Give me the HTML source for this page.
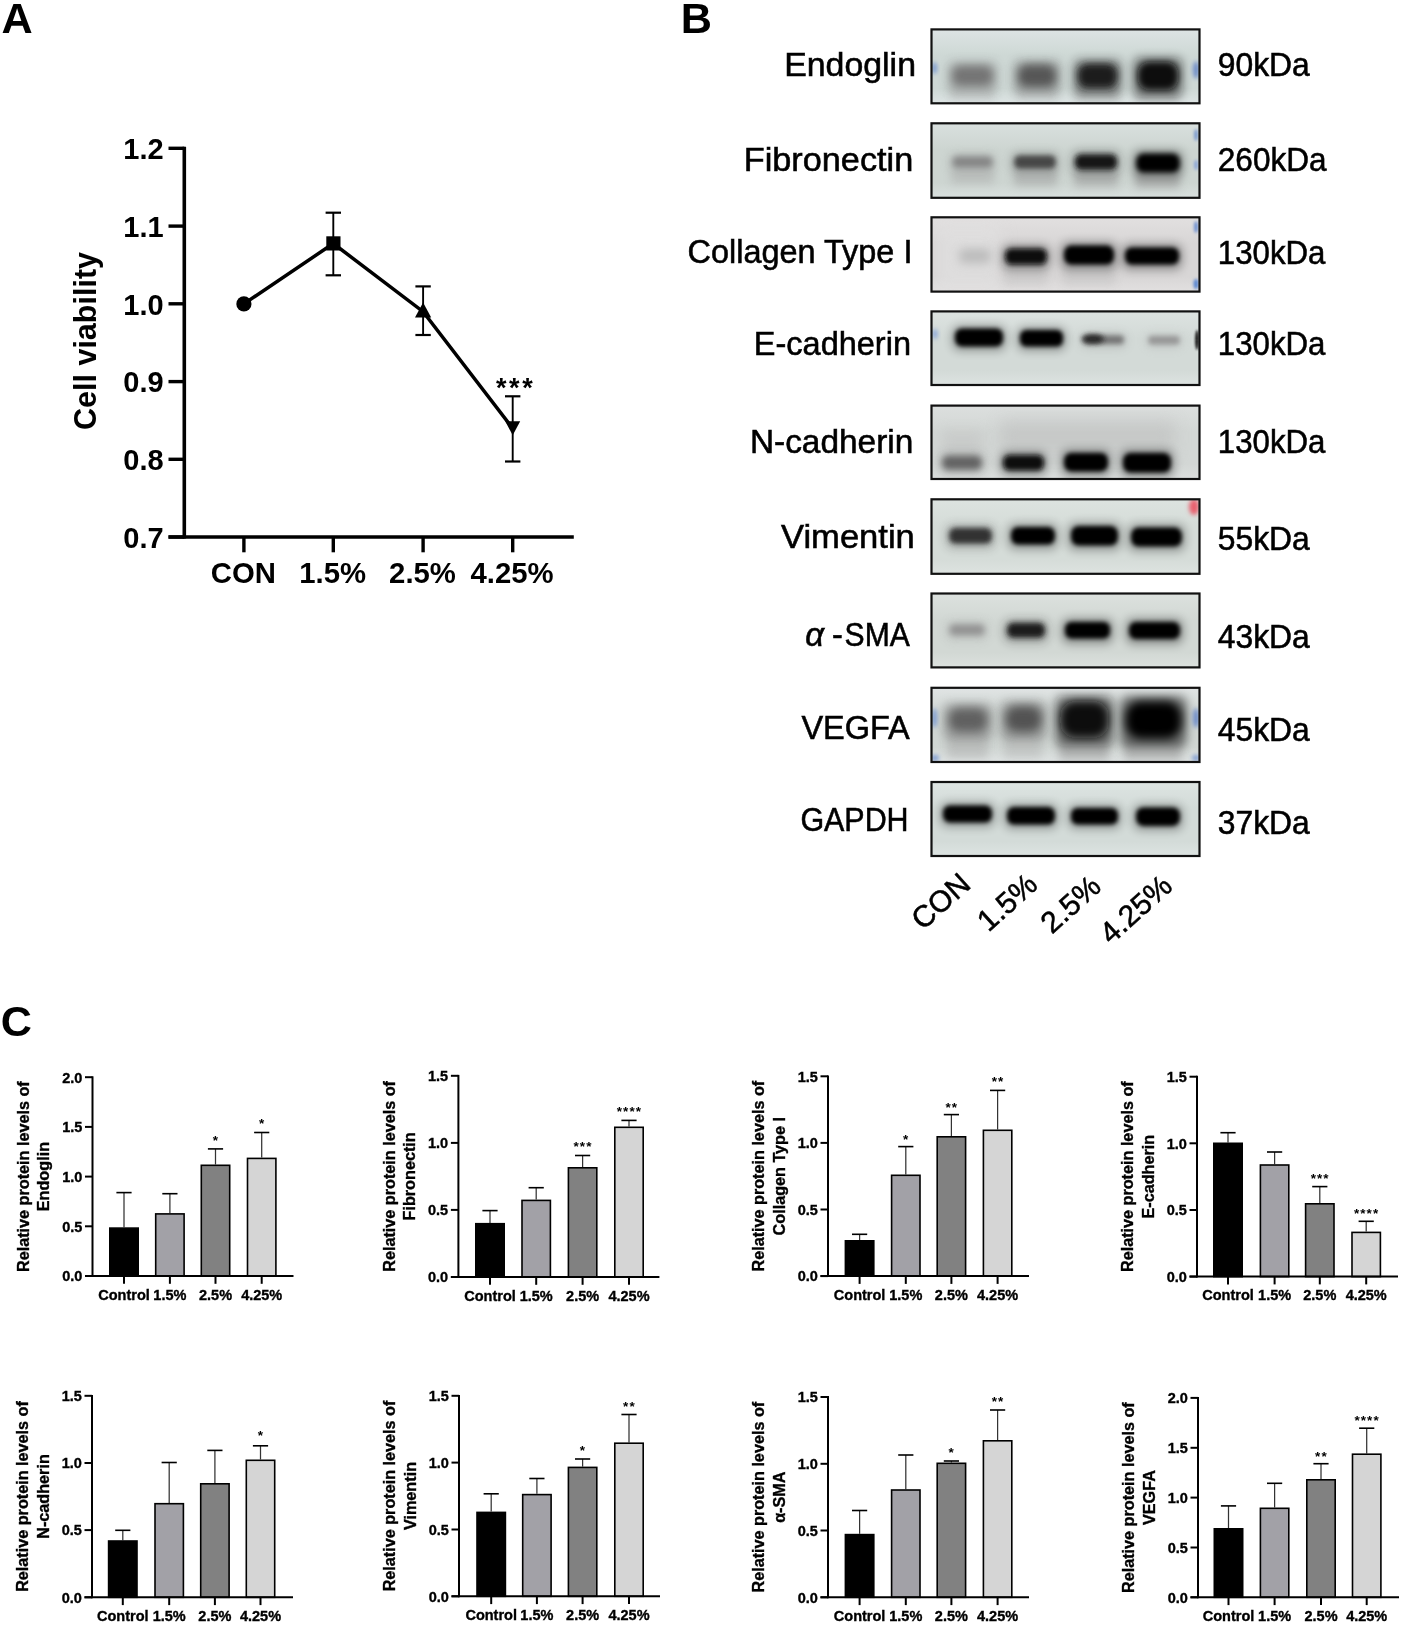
<!DOCTYPE html>
<html><head><meta charset="utf-8"><title>Figure</title>
<style>html,body{margin:0;padding:0;background:#fff;} svg{display:block;will-change:transform;}</style></head>
<body><svg width="1401" height="1626" viewBox="0 0 1401 1626">
<rect width="1401" height="1626" fill="#fff"/>
<text x="1.6" y="32.6" font-family="&quot;Liberation Sans&quot;, sans-serif" font-weight="bold" font-size="43.2">A</text>
<line x1="184.3" y1="146.8" x2="184.3" y2="538.55" stroke="#000" stroke-width="3.6"/>
<line x1="168.5" y1="148.3" x2="184.3" y2="148.3" stroke="#000" stroke-width="3.4"/>
<text x="163.6" y="159.1" font-family="&quot;Liberation Sans&quot;, sans-serif" font-weight="bold" font-size="29" text-anchor="end">1.2</text>
<line x1="168.5" y1="226.1" x2="184.3" y2="226.1" stroke="#000" stroke-width="3.4"/>
<text x="163.6" y="236.9" font-family="&quot;Liberation Sans&quot;, sans-serif" font-weight="bold" font-size="29" text-anchor="end">1.1</text>
<line x1="168.5" y1="303.8" x2="184.3" y2="303.8" stroke="#000" stroke-width="3.4"/>
<text x="163.6" y="314.6" font-family="&quot;Liberation Sans&quot;, sans-serif" font-weight="bold" font-size="29" text-anchor="end">1.0</text>
<line x1="168.5" y1="381.6" x2="184.3" y2="381.6" stroke="#000" stroke-width="3.4"/>
<text x="163.6" y="392.4" font-family="&quot;Liberation Sans&quot;, sans-serif" font-weight="bold" font-size="29" text-anchor="end">0.9</text>
<line x1="168.5" y1="459.3" x2="184.3" y2="459.3" stroke="#000" stroke-width="3.4"/>
<text x="163.6" y="470.1" font-family="&quot;Liberation Sans&quot;, sans-serif" font-weight="bold" font-size="29" text-anchor="end">0.8</text>
<line x1="168.5" y1="537.0" x2="184.3" y2="537.0" stroke="#000" stroke-width="3.4"/>
<text x="163.6" y="547.8" font-family="&quot;Liberation Sans&quot;, sans-serif" font-weight="bold" font-size="29" text-anchor="end">0.7</text>
<line x1="168.5" y1="537.05" x2="573.8" y2="537.05" stroke="#000" stroke-width="3.4"/>
<line x1="243.9" y1="537.05" x2="243.9" y2="552.3" stroke="#000" stroke-width="3.4"/>
<text x="243.3" y="583.4" font-family="&quot;Liberation Sans&quot;, sans-serif" font-weight="bold" font-size="29.3" text-anchor="middle">CON</text>
<line x1="333.3" y1="537.05" x2="333.3" y2="552.3" stroke="#000" stroke-width="3.4"/>
<text x="332.7" y="583.4" font-family="&quot;Liberation Sans&quot;, sans-serif" font-weight="bold" font-size="29.3" text-anchor="middle">1.5%</text>
<line x1="423.1" y1="537.05" x2="423.1" y2="552.3" stroke="#000" stroke-width="3.4"/>
<text x="422.5" y="583.4" font-family="&quot;Liberation Sans&quot;, sans-serif" font-weight="bold" font-size="29.3" text-anchor="middle">2.5%</text>
<line x1="512.7" y1="537.05" x2="512.7" y2="552.3" stroke="#000" stroke-width="3.4"/>
<text x="512.1" y="583.4" font-family="&quot;Liberation Sans&quot;, sans-serif" font-weight="bold" font-size="29.3" text-anchor="middle">4.25%</text>
<text transform="translate(96.2,341) rotate(-90)" font-family="&quot;Liberation Sans&quot;, sans-serif" font-weight="bold" font-size="30.5" text-anchor="middle">Cell viability</text>
<polyline points="243.9,303.9 333.3,243.5 423.1,311.7 512.7,428.4" fill="none" stroke="#000" stroke-width="3.5" stroke-linejoin="miter"/>
<line x1="333.3" y1="212.7" x2="333.3" y2="275.3" stroke="#000" stroke-width="1.9"/>
<line x1="325.6" y1="212.7" x2="341.0" y2="212.7" stroke="#000" stroke-width="2.2"/>
<line x1="325.6" y1="275.3" x2="341.0" y2="275.3" stroke="#000" stroke-width="2.2"/>
<line x1="423.1" y1="286.4" x2="423.1" y2="335.0" stroke="#000" stroke-width="1.9"/>
<line x1="415.40000000000003" y1="286.4" x2="430.8" y2="286.4" stroke="#000" stroke-width="2.2"/>
<line x1="415.40000000000003" y1="335.0" x2="430.8" y2="335.0" stroke="#000" stroke-width="2.2"/>
<line x1="512.7" y1="396.3" x2="512.7" y2="461.5" stroke="#000" stroke-width="1.9"/>
<line x1="505.00000000000006" y1="396.3" x2="520.4000000000001" y2="396.3" stroke="#000" stroke-width="2.2"/>
<line x1="505.00000000000006" y1="461.5" x2="520.4000000000001" y2="461.5" stroke="#000" stroke-width="2.2"/>
<circle cx="243.9" cy="303.9" r="7.6" fill="#000"/>
<rect x="326.3" y="236.3" width="14.2" height="14.2" fill="#000"/>
<polygon points="423.1,302.5 431.2,317.5 415,317.5" fill="#000"/>
<polygon points="505.2,421.2 520.2,421.2 512.7,435.3" fill="#000"/>
<text x="515.6" y="396.6" font-family="&quot;Liberation Sans&quot;, sans-serif" font-weight="bold" font-size="27" letter-spacing="2.6" text-anchor="middle">***</text>
<text x="680.8" y="32.6" font-family="&quot;Liberation Sans&quot;, sans-serif" font-weight="bold" font-size="43.2">B</text>
<defs>
<filter id="bl1.2" x="-60%" y="-150%" width="220%" height="400%"><feGaussianBlur stdDeviation="1.2"/></filter>
<filter id="bl1.5" x="-60%" y="-150%" width="220%" height="400%"><feGaussianBlur stdDeviation="1.5"/></filter>
<filter id="bl2.0" x="-60%" y="-150%" width="220%" height="400%"><feGaussianBlur stdDeviation="2.0"/></filter>
<filter id="bl2.2" x="-60%" y="-150%" width="220%" height="400%"><feGaussianBlur stdDeviation="2.2"/></filter>
<filter id="bl2.4" x="-60%" y="-150%" width="220%" height="400%"><feGaussianBlur stdDeviation="2.4"/></filter>
<filter id="bl2.6" x="-60%" y="-150%" width="220%" height="400%"><feGaussianBlur stdDeviation="2.6"/></filter>
<filter id="bl2.8" x="-60%" y="-150%" width="220%" height="400%"><feGaussianBlur stdDeviation="2.8"/></filter>
<filter id="bl3.0" x="-60%" y="-150%" width="220%" height="400%"><feGaussianBlur stdDeviation="3.0"/></filter>
<filter id="bl3.2" x="-60%" y="-150%" width="220%" height="400%"><feGaussianBlur stdDeviation="3.2"/></filter>
<filter id="bl3.6" x="-60%" y="-150%" width="220%" height="400%"><feGaussianBlur stdDeviation="3.6"/></filter>
<filter id="bl4.0" x="-60%" y="-150%" width="220%" height="400%"><feGaussianBlur stdDeviation="4.0"/></filter>
<filter id="bl4.2" x="-60%" y="-150%" width="220%" height="400%"><feGaussianBlur stdDeviation="4.2"/></filter>
<filter id="bl4.6" x="-60%" y="-150%" width="220%" height="400%"><feGaussianBlur stdDeviation="4.6"/></filter>
<filter id="bl5.0" x="-60%" y="-150%" width="220%" height="400%"><feGaussianBlur stdDeviation="5.0"/></filter>
<filter id="bl6.0" x="-60%" y="-150%" width="220%" height="400%"><feGaussianBlur stdDeviation="6.0"/></filter>
<filter id="bl8.0" x="-60%" y="-150%" width="220%" height="400%"><feGaussianBlur stdDeviation="8.0"/></filter>
<clipPath id="cp0"><rect x="931.5" y="29.4" width="268" height="73.9"/></clipPath>
<linearGradient id="lg0" x1="0" y1="0" x2="0" y2="1"><stop offset="0" stop-color="#dde4e4"/><stop offset="0.35" stop-color="#ced8d5"/><stop offset="0.8" stop-color="#ced8d5"/><stop offset="1" stop-color="#dde4e4"/></linearGradient>
<clipPath id="cp1"><rect x="931.5" y="123.3" width="268" height="74.5"/></clipPath>
<linearGradient id="lg1" x1="0" y1="0" x2="0" y2="1"><stop offset="0" stop-color="#d9e0de"/><stop offset="0.35" stop-color="#cdd5d1"/><stop offset="0.8" stop-color="#cdd5d1"/><stop offset="1" stop-color="#d9e0de"/></linearGradient>
<clipPath id="cp2"><rect x="931.5" y="217.3" width="268" height="74.3"/></clipPath>
<linearGradient id="lg2" x1="0" y1="0" x2="0" y2="1"><stop offset="0" stop-color="#e2e0e0"/><stop offset="0.35" stop-color="#d8d6d6"/><stop offset="0.8" stop-color="#d8d6d6"/><stop offset="1" stop-color="#e2e0e0"/></linearGradient>
<clipPath id="cp3"><rect x="931.5" y="311.4" width="268" height="73.6"/></clipPath>
<linearGradient id="lg3" x1="0" y1="0" x2="0" y2="1"><stop offset="0" stop-color="#dde3e1"/><stop offset="0.35" stop-color="#d3dad7"/><stop offset="0.8" stop-color="#d3dad7"/><stop offset="1" stop-color="#dde3e1"/></linearGradient>
<clipPath id="cp4"><rect x="931.5" y="405.6" width="268" height="73.4"/></clipPath>
<linearGradient id="lg4" x1="0" y1="0" x2="0" y2="1"><stop offset="0" stop-color="#dcdfde"/><stop offset="0.35" stop-color="#d3d7d5"/><stop offset="0.8" stop-color="#d3d7d5"/><stop offset="1" stop-color="#dcdfde"/></linearGradient>
<clipPath id="cp5"><rect x="931.5" y="499.3" width="268" height="74.5"/></clipPath>
<linearGradient id="lg5" x1="0" y1="0" x2="0" y2="1"><stop offset="0" stop-color="#dde3e0"/><stop offset="0.35" stop-color="#d5dcd8"/><stop offset="0.8" stop-color="#d5dcd8"/><stop offset="1" stop-color="#dde3e0"/></linearGradient>
<clipPath id="cp6"><rect x="931.5" y="593.5" width="268" height="73.9"/></clipPath>
<linearGradient id="lg6" x1="0" y1="0" x2="0" y2="1"><stop offset="0" stop-color="#dce1de"/><stop offset="0.35" stop-color="#d2d8d4"/><stop offset="0.8" stop-color="#d2d8d4"/><stop offset="1" stop-color="#dce1de"/></linearGradient>
<clipPath id="cp7"><rect x="931.5" y="687.8" width="268" height="74.2"/></clipPath>
<linearGradient id="lg7" x1="0" y1="0" x2="0" y2="1"><stop offset="0" stop-color="#e0e4e4"/><stop offset="0.35" stop-color="#d0d6d3"/><stop offset="0.8" stop-color="#d0d6d3"/><stop offset="1" stop-color="#e0e4e4"/></linearGradient>
<clipPath id="cp8"><rect x="931.5" y="782.0" width="268" height="74.0"/></clipPath>
<linearGradient id="lg8" x1="0" y1="0" x2="0" y2="1"><stop offset="0" stop-color="#dde4e2"/><stop offset="0.35" stop-color="#d3dbd8"/><stop offset="0.8" stop-color="#d3dbd8"/><stop offset="1" stop-color="#dde4e2"/></linearGradient>
</defs>
<g clip-path="url(#cp0)">
<rect x="931.5" y="29.4" width="268" height="73.9" fill="url(#lg0)"/>
<rect x="950" y="86" width="44.0" height="14.0" fill="rgb(168,168,168)" opacity="0.35" filter="url(#bl4.0)"/>
<rect x="1017" y="87" width="40.0" height="13.0" fill="rgb(168,168,168)" opacity="0.35" filter="url(#bl4.0)"/>
<rect x="1076" y="89" width="43.0" height="11.0" fill="rgb(152,152,152)" opacity="0.45" filter="url(#bl4.0)"/>
<rect x="1136" y="91" width="43.0" height="9.0" fill="rgb(152,152,152)" opacity="0.45" filter="url(#bl4.0)"/>
<rect x="946.8" y="61.0" width="51.4" height="32.4" rx="8" fill="rgb(116,116,116)" opacity="0.33" filter="url(#bl5.0)"/>
<rect x="1012.8" y="60.0" width="48.4" height="34.4" rx="8" fill="rgb(86,86,86)" opacity="0.36" filter="url(#bl5.0)"/>
<rect x="1072.8" y="59.0" width="49.4" height="36.4" rx="8" fill="rgb(28,28,28)" opacity="0.42" filter="url(#bl5.0)"/>
<rect x="1132.8" y="57.0" width="50.4" height="40.4" rx="8" fill="rgb(8,8,8)" opacity="0.44" filter="url(#bl5.0)"/>
<rect x="952.1" y="65.8" width="40.8" height="20.3" rx="8.1" ry="8.1" fill="rgb(116,116,116)" filter="url(#bl4.2)"/>
<rect x="1018.1" y="64.8" width="37.8" height="22.3" rx="8.9" ry="8.9" fill="rgb(86,86,86)" filter="url(#bl4.2)"/>
<rect x="1077.8" y="63.7" width="39.4" height="24.6" rx="9.8" ry="9.8" fill="rgb(28,28,28)" filter="url(#bl3.6)"/>
<rect x="1137.8" y="61.7" width="40.4" height="28.6" rx="11.4" ry="11.4" fill="rgb(8,8,8)" filter="url(#bl3.6)"/>
<ellipse cx="934.5" cy="68" rx="2.5" ry="6" fill="#7a9ad0" filter="url(#bl2.0)"/>
<ellipse cx="1196" cy="70" rx="3" ry="9" fill="#6a8ac8" filter="url(#bl2.0)"/>
</g>
<rect x="931.5" y="29.4" width="268" height="73.9" fill="none" stroke="#111" stroke-width="2.2"/>
<text x="916.0" y="75.5" font-family="&quot;Liberation Sans&quot;, sans-serif" stroke="#000" stroke-width="0.55" font-size="32.5" text-anchor="end" textLength="131.8" lengthAdjust="spacingAndGlyphs">Endoglin</text>
<text x="1217.8" y="76.0" font-family="&quot;Liberation Sans&quot;, sans-serif" stroke="#000" stroke-width="0.55" font-size="32.5" textLength="92.0" lengthAdjust="spacingAndGlyphs">90kDa</text>
<g clip-path="url(#cp1)">
<rect x="931.5" y="123.3" width="268" height="74.5" fill="url(#lg1)"/>
<rect x="951" y="168" width="43.0" height="16.0" fill="rgb(168,168,168)" opacity="0.45" filter="url(#bl4.0)"/>
<rect x="1014" y="169" width="43.0" height="17.0" fill="rgb(156,156,156)" opacity="0.5" filter="url(#bl4.0)"/>
<rect x="1074" y="170" width="44.0" height="17.0" fill="rgb(156,156,156)" opacity="0.55" filter="url(#bl4.0)"/>
<rect x="1135" y="172" width="45.0" height="16.0" fill="rgb(152,152,152)" opacity="0.6" filter="url(#bl4.0)"/>
<rect x="948.6" y="153.0" width="47.8" height="19.8" rx="8" fill="rgb(132,132,132)" opacity="0.24" filter="url(#bl5.0)"/>
<rect x="1010.6" y="152.0" width="48.8" height="21.8" rx="8" fill="rgb(70,70,70)" opacity="0.29" filter="url(#bl5.0)"/>
<rect x="1071.6" y="151.0" width="48.8" height="23.8" rx="8" fill="rgb(20,20,20)" opacity="0.33" filter="url(#bl5.0)"/>
<rect x="1132.6" y="150.0" width="50.8" height="27.8" rx="8" fill="rgb(4,4,4)" opacity="0.35" filter="url(#bl5.0)"/>
<rect x="952.5" y="156.6" width="40.0" height="10.8" rx="4.3" ry="4.3" fill="rgb(132,132,132)" filter="url(#bl3.0)"/>
<rect x="1014.4" y="155.6" width="41.2" height="12.9" rx="5.2" ry="5.2" fill="rgb(70,70,70)" filter="url(#bl2.8)"/>
<rect x="1075.2" y="154.5" width="41.6" height="15.0" rx="6.0" ry="6.0" fill="rgb(20,20,20)" filter="url(#bl2.4)"/>
<rect x="1136.2" y="153.5" width="43.6" height="19.0" rx="7.6" ry="7.6" fill="rgb(4,4,4)" filter="url(#bl2.4)"/>
<ellipse cx="1196" cy="135" rx="2" ry="6" fill="#7a9ad0" filter="url(#bl1.5)"/>
<ellipse cx="1196" cy="165" rx="2" ry="5" fill="#8aa6d6" filter="url(#bl1.5)"/>
</g>
<rect x="931.5" y="123.3" width="268" height="74.5" fill="none" stroke="#111" stroke-width="2.2"/>
<text x="913.3" y="171.4" font-family="&quot;Liberation Sans&quot;, sans-serif" stroke="#000" stroke-width="0.55" font-size="32.5" text-anchor="end" textLength="169.6" lengthAdjust="spacingAndGlyphs">Fibronectin</text>
<text x="1217.8" y="171.2" font-family="&quot;Liberation Sans&quot;, sans-serif" stroke="#000" stroke-width="0.55" font-size="32.5" textLength="108.8" lengthAdjust="spacingAndGlyphs">260kDa</text>
<g clip-path="url(#cp2)">
<rect x="931.5" y="217.3" width="268" height="74.3" fill="url(#lg2)"/>
<rect x="935" y="225" width="65.0" height="65.0" fill="rgb(228,228,228)" opacity="0.5" filter="url(#bl8.0)"/>
<rect x="1004" y="265" width="43.0" height="20.0" fill="rgb(176,176,176)" opacity="0.3" filter="url(#bl4.0)"/>
<rect x="1063" y="265" width="52.0" height="20.0" fill="rgb(176,176,176)" opacity="0.3" filter="url(#bl4.0)"/>
<rect x="955.6" y="246.0" width="38.8" height="21.8" rx="8" fill="rgb(188,188,188)" opacity="0.20" filter="url(#bl5.0)"/>
<rect x="1001.6" y="245.0" width="48.8" height="24.8" rx="8" fill="rgb(10,10,10)" opacity="0.34" filter="url(#bl5.0)"/>
<rect x="1060.6" y="242.0" width="56.8" height="27.8" rx="8" fill="rgb(0,0,0)" opacity="0.35" filter="url(#bl5.0)"/>
<rect x="1121.6" y="244.0" width="60.8" height="25.8" rx="8" fill="rgb(4,4,4)" opacity="0.35" filter="url(#bl5.0)"/>
<rect x="960.0" y="249.8" width="30.0" height="12.4" rx="5.0" ry="5.0" fill="rgb(188,188,188)" filter="url(#bl4.0)"/>
<rect x="1005.2" y="248.5" width="41.6" height="16.0" rx="6.4" ry="6.4" fill="rgb(10,10,10)" filter="url(#bl2.4)"/>
<rect x="1064.1" y="245.4" width="49.8" height="19.1" rx="7.6" ry="7.6" fill="rgb(0,0,0)" filter="url(#bl2.2)"/>
<rect x="1125.1" y="247.4" width="53.8" height="17.1" rx="6.8" ry="6.8" fill="rgb(4,4,4)" filter="url(#bl2.2)"/>
<ellipse cx="1196" cy="227" rx="2" ry="6" fill="#6a8ed0" filter="url(#bl1.5)"/>
<ellipse cx="1196" cy="284" rx="2.5" ry="5" fill="#5a86d0" filter="url(#bl1.5)"/>
</g>
<rect x="931.5" y="217.3" width="268" height="74.3" fill="none" stroke="#111" stroke-width="2.2"/>
<text x="912.4" y="263.2" font-family="&quot;Liberation Sans&quot;, sans-serif" stroke="#000" stroke-width="0.55" font-size="32.5" text-anchor="end" textLength="224.8" lengthAdjust="spacingAndGlyphs">Collagen Type I</text>
<text x="1217.8" y="264.0" font-family="&quot;Liberation Sans&quot;, sans-serif" stroke="#000" stroke-width="0.55" font-size="32.5" textLength="107.6" lengthAdjust="spacingAndGlyphs">130kDa</text>
<g clip-path="url(#cp3)">
<rect x="931.5" y="311.4" width="268" height="73.6" fill="url(#lg3)"/>
<rect x="952.0" y="325.5" width="54.0" height="25.5" rx="8" fill="rgb(0,0,0)" opacity="0.30" filter="url(#bl5.0)"/>
<rect x="1017.0" y="327.0" width="49.0" height="24.0" rx="8" fill="rgb(0,0,0)" opacity="0.30" filter="url(#bl5.0)"/>
<rect x="1080.0" y="332.5" width="47.0" height="16.0" rx="8" fill="rgb(116,116,116)" opacity="0.22" filter="url(#bl5.0)"/>
<rect x="1145.0" y="333.0" width="38.0" height="16.0" rx="8" fill="rgb(150,150,150)" opacity="0.19" filter="url(#bl5.0)"/>
<rect x="955.0" y="328.4" width="48.0" height="18.2" rx="7.3" ry="7.3" fill="rgb(0,0,0)" filter="url(#bl2.0)"/>
<rect x="1020.0" y="329.9" width="43.0" height="16.7" rx="6.7" ry="6.7" fill="rgb(0,0,0)" filter="url(#bl2.0)"/>
<rect x="1083.3" y="335.5" width="40.4" height="8.5" rx="3.4" ry="3.4" fill="rgb(116,116,116)" filter="url(#bl2.6)"/>
<rect x="1148.4" y="336.1" width="31.2" height="8.4" rx="3.4" ry="3.4" fill="rgb(150,150,150)" filter="url(#bl2.8)"/>
<ellipse cx="1093" cy="339" rx="11" ry="4.6" fill="rgb(38,38,38)" filter="url(#bl2.6)"/>
<ellipse cx="935" cy="334" rx="2.5" ry="5" fill="#8aa6d8" filter="url(#bl2.0)"/>
<ellipse cx="1197" cy="340" rx="2" ry="10" fill="rgb(32,32,32)" filter="url(#bl1.2)"/>
</g>
<rect x="931.5" y="311.4" width="268" height="73.6" fill="none" stroke="#111" stroke-width="2.2"/>
<text x="911.0" y="354.6" font-family="&quot;Liberation Sans&quot;, sans-serif" stroke="#000" stroke-width="0.55" font-size="32.5" text-anchor="end" textLength="157.2" lengthAdjust="spacingAndGlyphs">E-cadherin</text>
<text x="1217.8" y="355.0" font-family="&quot;Liberation Sans&quot;, sans-serif" stroke="#000" stroke-width="0.55" font-size="32.5" textLength="107.6" lengthAdjust="spacingAndGlyphs">130kDa</text>
<g clip-path="url(#cp4)">
<rect x="931.5" y="405.6" width="268" height="73.4" fill="url(#lg4)"/>
<rect x="1000" y="420" width="175.0" height="35.0" fill="rgb(184,184,184)" opacity="0.45" filter="url(#bl8.0)"/>
<rect x="942" y="430" width="41.0" height="26.0" fill="rgb(184,184,184)" opacity="0.35" filter="url(#bl6.0)"/>
<rect x="939.0" y="452.5" width="46.0" height="22.3" rx="8" fill="rgb(100,100,100)" opacity="0.27" filter="url(#bl5.0)"/>
<rect x="1000.0" y="451.5" width="47.0" height="24.3" rx="8" fill="rgb(8,8,8)" opacity="0.34" filter="url(#bl5.0)"/>
<rect x="1061.0" y="449.5" width="50.0" height="27.3" rx="8" fill="rgb(6,6,6)" opacity="0.35" filter="url(#bl5.0)"/>
<rect x="1120.0" y="449.5" width="54.0" height="28.3" rx="8" fill="rgb(3,3,3)" opacity="0.35" filter="url(#bl5.0)"/>
<rect x="942.5" y="456.1" width="39.0" height="13.3" rx="5.3" ry="5.3" fill="rgb(100,100,100)" filter="url(#bl3.0)"/>
<rect x="1003.2" y="455.0" width="40.6" height="15.5" rx="6.2" ry="6.2" fill="rgb(8,8,8)" filter="url(#bl2.4)"/>
<rect x="1064.1" y="452.9" width="43.8" height="18.6" rx="7.4" ry="7.4" fill="rgb(6,6,6)" filter="url(#bl2.2)"/>
<rect x="1123.1" y="452.9" width="47.8" height="19.6" rx="7.8" ry="7.8" fill="rgb(3,3,3)" filter="url(#bl2.2)"/>
</g>
<rect x="931.5" y="405.6" width="268" height="73.4" fill="none" stroke="#111" stroke-width="2.2"/>
<text x="913.3" y="453.1" font-family="&quot;Liberation Sans&quot;, sans-serif" stroke="#000" stroke-width="0.55" font-size="32.5" text-anchor="end" textLength="163.4" lengthAdjust="spacingAndGlyphs">N-cadherin</text>
<text x="1217.8" y="453.2" font-family="&quot;Liberation Sans&quot;, sans-serif" stroke="#000" stroke-width="0.55" font-size="32.5" textLength="107.6" lengthAdjust="spacingAndGlyphs">130kDa</text>
<g clip-path="url(#cp5)">
<rect x="931.5" y="499.3" width="268" height="74.5" fill="url(#lg5)"/>
<rect x="945.6" y="524.5" width="49.8" height="24.3" rx="8" fill="rgb(48,48,48)" opacity="0.27" filter="url(#bl5.0)"/>
<rect x="1007.6" y="523.5" width="50.8" height="26.3" rx="8" fill="rgb(6,6,6)" opacity="0.30" filter="url(#bl5.0)"/>
<rect x="1067.6" y="522.5" width="53.8" height="28.3" rx="8" fill="rgb(0,0,0)" opacity="0.30" filter="url(#bl5.0)"/>
<rect x="1127.6" y="524.0" width="57.8" height="27.8" rx="8" fill="rgb(0,0,0)" opacity="0.30" filter="url(#bl5.0)"/>
<rect x="949.3" y="528.0" width="42.4" height="15.5" rx="6.2" ry="6.2" fill="rgb(48,48,48)" filter="url(#bl2.6)"/>
<rect x="1011.1" y="526.9" width="43.8" height="17.6" rx="7.0" ry="7.0" fill="rgb(6,6,6)" filter="url(#bl2.2)"/>
<rect x="1071.1" y="525.9" width="46.8" height="19.6" rx="7.8" ry="7.8" fill="rgb(0,0,0)" filter="url(#bl2.2)"/>
<rect x="1131.1" y="527.4" width="50.8" height="19.1" rx="7.6" ry="7.6" fill="rgb(0,0,0)" filter="url(#bl2.2)"/>
<ellipse cx="1194" cy="507" rx="5" ry="8" fill="#e8606e" filter="url(#bl2.0)"/>
</g>
<rect x="931.5" y="499.3" width="268" height="74.5" fill="none" stroke="#111" stroke-width="2.2"/>
<text x="914.8" y="548.4" font-family="&quot;Liberation Sans&quot;, sans-serif" stroke="#000" stroke-width="0.55" font-size="32.5" text-anchor="end" textLength="133.8" lengthAdjust="spacingAndGlyphs">Vimentin</text>
<text x="1217.8" y="550.0" font-family="&quot;Liberation Sans&quot;, sans-serif" stroke="#000" stroke-width="0.55" font-size="32.5" textLength="92.0" lengthAdjust="spacingAndGlyphs">55kDa</text>
<g clip-path="url(#cp6)">
<rect x="931.5" y="593.5" width="268" height="73.9" fill="url(#lg6)"/>
<rect x="945.6" y="621.0" width="42.8" height="19.8" rx="8" fill="rgb(146,146,146)" opacity="0.23" filter="url(#bl5.0)"/>
<rect x="1003.6" y="619.5" width="44.8" height="23.3" rx="8" fill="rgb(30,30,30)" opacity="0.33" filter="url(#bl5.0)"/>
<rect x="1061.6" y="618.5" width="51.8" height="25.3" rx="8" fill="rgb(4,4,4)" opacity="0.35" filter="url(#bl5.0)"/>
<rect x="1125.6" y="618.5" width="57.8" height="25.8" rx="8" fill="rgb(4,4,4)" opacity="0.35" filter="url(#bl5.0)"/>
<rect x="949.6" y="624.6" width="34.8" height="10.7" rx="4.3" ry="4.3" fill="rgb(146,146,146)" filter="url(#bl3.2)"/>
<rect x="1007.3" y="623.0" width="37.4" height="14.5" rx="5.8" ry="5.8" fill="rgb(30,30,30)" filter="url(#bl2.6)"/>
<rect x="1065.1" y="621.9" width="44.8" height="16.6" rx="6.6" ry="6.6" fill="rgb(4,4,4)" filter="url(#bl2.2)"/>
<rect x="1129.1" y="621.9" width="50.8" height="17.1" rx="6.8" ry="6.8" fill="rgb(4,4,4)" filter="url(#bl2.2)"/>
</g>
<rect x="931.5" y="593.5" width="268" height="73.9" fill="none" stroke="#111" stroke-width="2.2"/>
<text y="645.8" font-family="&quot;Liberation Sans&quot;, sans-serif" stroke="#000" stroke-width="0.55" font-size="32.5"><tspan x="805.2" font-style="italic" font-size="33">&#945;</tspan><tspan x="832.0">-</tspan><tspan x="844.6" textLength="65.2" lengthAdjust="spacingAndGlyphs">SMA</tspan></text>
<text x="1217.8" y="648.2" font-family="&quot;Liberation Sans&quot;, sans-serif" stroke="#000" stroke-width="0.55" font-size="32.5" textLength="92.0" lengthAdjust="spacingAndGlyphs">43kDa</text>
<g clip-path="url(#cp7)">
<rect x="931.5" y="687.8" width="268" height="74.2" fill="url(#lg7)"/>
<rect x="947" y="731" width="41.0" height="27.0" fill="rgb(168,168,168)" opacity="0.5" filter="url(#bl5.0)"/>
<rect x="1004" y="731" width="38.0" height="27.0" fill="rgb(168,168,168)" opacity="0.4" filter="url(#bl5.0)"/>
<rect x="1059" y="737" width="50.0" height="23.0" fill="rgb(152,152,152)" opacity="0.6" filter="url(#bl5.0)"/>
<rect x="1124" y="738" width="58.0" height="22.0" fill="rgb(152,152,152)" opacity="0.6" filter="url(#bl5.0)"/>
<rect x="942.8" y="702.5" width="50.4" height="37.7" rx="8" fill="rgb(96,96,96)" opacity="0.35" filter="url(#bl5.0)"/>
<rect x="999.8" y="700.5" width="47.4" height="39.7" rx="8" fill="rgb(82,82,82)" opacity="0.36" filter="url(#bl5.0)"/>
<rect x="1054.8" y="695.5" width="59.4" height="50.7" rx="8" fill="rgb(10,10,10)" opacity="0.44" filter="url(#bl5.0)"/>
<rect x="1119.8" y="695.5" width="67.4" height="51.7" rx="8" fill="rgb(5,5,5)" opacity="0.44" filter="url(#bl5.0)"/>
<rect x="948.5" y="708.0" width="39.0" height="24.0" rx="9.6" ry="9.6" fill="rgb(96,96,96)" filter="url(#bl5.0)"/>
<rect x="1005.5" y="706.0" width="36.0" height="26.0" rx="10.4" ry="10.4" fill="rgb(82,82,82)" filter="url(#bl5.0)"/>
<rect x="1060.3" y="700.9" width="48.4" height="37.2" rx="14.9" ry="14.9" fill="rgb(10,10,10)" filter="url(#bl4.6)"/>
<rect x="1125.3" y="700.9" width="56.4" height="38.2" rx="15.3" ry="15.3" fill="rgb(5,5,5)" filter="url(#bl4.6)"/>
<ellipse cx="934.5" cy="718" rx="2.5" ry="10" fill="#7a9ad0" filter="url(#bl2.0)"/>
<ellipse cx="1196" cy="718" rx="3" ry="10" fill="#6a8ac8" filter="url(#bl2.0)"/>
<ellipse cx="935" cy="758" rx="4" ry="3" fill="#7a9ad0" filter="url(#bl2.0)"/>
<ellipse cx="1196" cy="758" rx="4" ry="3" fill="#7a9ad0" filter="url(#bl2.0)"/>
</g>
<rect x="931.5" y="687.8" width="268" height="74.2" fill="none" stroke="#111" stroke-width="2.2"/>
<text x="909.8" y="739.4" font-family="&quot;Liberation Sans&quot;, sans-serif" stroke="#000" stroke-width="0.55" font-size="32.5" text-anchor="end">VEGFA</text>
<text x="1217.8" y="740.6" font-family="&quot;Liberation Sans&quot;, sans-serif" stroke="#000" stroke-width="0.55" font-size="32.5" textLength="92.0" lengthAdjust="spacingAndGlyphs">45kDa</text>
<g clip-path="url(#cp8)">
<rect x="931.5" y="782.0" width="268" height="74.0" fill="url(#lg8)"/>
<rect x="940.0" y="802.5" width="55.0" height="24.5" rx="8" fill="rgb(0,0,0)" opacity="0.30" filter="url(#bl5.0)"/>
<rect x="1004.0" y="804.0" width="54.0" height="25.0" rx="8" fill="rgb(0,0,0)" opacity="0.30" filter="url(#bl5.0)"/>
<rect x="1068.0" y="805.0" width="53.0" height="24.0" rx="8" fill="rgb(0,0,0)" opacity="0.30" filter="url(#bl5.0)"/>
<rect x="1133.0" y="804.5" width="50.0" height="26.0" rx="8" fill="rgb(0,0,0)" opacity="0.30" filter="url(#bl5.0)"/>
<rect x="943.1" y="805.4" width="48.8" height="17.1" rx="6.8" ry="6.8" fill="rgb(0,0,0)" filter="url(#bl2.2)"/>
<rect x="1007.1" y="806.9" width="47.8" height="17.6" rx="7.0" ry="7.0" fill="rgb(0,0,0)" filter="url(#bl2.2)"/>
<rect x="1071.1" y="807.9" width="46.8" height="16.6" rx="6.6" ry="6.6" fill="rgb(0,0,0)" filter="url(#bl2.2)"/>
<rect x="1136.1" y="807.4" width="43.8" height="18.6" rx="7.4" ry="7.4" fill="rgb(0,0,0)" filter="url(#bl2.2)"/>
</g>
<rect x="931.5" y="782.0" width="268" height="74.0" fill="none" stroke="#111" stroke-width="2.2"/>
<text x="908.6" y="831.3" font-family="&quot;Liberation Sans&quot;, sans-serif" stroke="#000" stroke-width="0.55" font-size="32.5" text-anchor="end" textLength="108.2" lengthAdjust="spacingAndGlyphs">GAPDH</text>
<text x="1217.8" y="834.2" font-family="&quot;Liberation Sans&quot;, sans-serif" stroke="#000" stroke-width="0.55" font-size="32.5" textLength="92.0" lengthAdjust="spacingAndGlyphs">37kDa</text>
<text transform="translate(940.5,901) rotate(-42)" font-family="&quot;Liberation Sans&quot;, sans-serif" stroke="#000" stroke-width="0.55" font-size="30" text-anchor="middle" dominant-baseline="central">CON</text>
<text transform="translate(1007,902) rotate(-42)" font-family="&quot;Liberation Sans&quot;, sans-serif" stroke="#000" stroke-width="0.55" font-size="30" text-anchor="middle" dominant-baseline="central">1.5%</text>
<text transform="translate(1070.5,904) rotate(-42)" font-family="&quot;Liberation Sans&quot;, sans-serif" stroke="#000" stroke-width="0.55" font-size="30" text-anchor="middle" dominant-baseline="central">2.5%</text>
<text transform="translate(1135.5,909) rotate(-42)" font-family="&quot;Liberation Sans&quot;, sans-serif" stroke="#000" stroke-width="0.55" font-size="30" text-anchor="middle" dominant-baseline="central">4.25%</text>
<text x="0.8" y="1036.2" font-family="&quot;Liberation Sans&quot;, sans-serif" font-weight="bold" font-size="43.2">C</text>
<line x1="92.5" y1="1076.3" x2="92.5" y2="1277.0" stroke="#000" stroke-width="2"/>
<line x1="85.0" y1="1276.0" x2="92.5" y2="1276.0" stroke="#000" stroke-width="2"/>
<text x="82.3" y="1281.3" font-family="&quot;Liberation Sans&quot;, sans-serif" font-weight="bold" stroke="#000" stroke-width="0.35" font-size="14.5" text-anchor="end">0.0</text>
<line x1="85.0" y1="1226.3" x2="92.5" y2="1226.3" stroke="#000" stroke-width="2"/>
<text x="82.3" y="1231.6" font-family="&quot;Liberation Sans&quot;, sans-serif" font-weight="bold" stroke="#000" stroke-width="0.35" font-size="14.5" text-anchor="end">0.5</text>
<line x1="85.0" y1="1176.6" x2="92.5" y2="1176.6" stroke="#000" stroke-width="2"/>
<text x="82.3" y="1181.9" font-family="&quot;Liberation Sans&quot;, sans-serif" font-weight="bold" stroke="#000" stroke-width="0.35" font-size="14.5" text-anchor="end">1.0</text>
<line x1="85.0" y1="1126.9" x2="92.5" y2="1126.9" stroke="#000" stroke-width="2"/>
<text x="82.3" y="1132.2" font-family="&quot;Liberation Sans&quot;, sans-serif" font-weight="bold" stroke="#000" stroke-width="0.35" font-size="14.5" text-anchor="end">1.5</text>
<line x1="85.0" y1="1077.2" x2="92.5" y2="1077.2" stroke="#000" stroke-width="2"/>
<text x="82.3" y="1082.5" font-family="&quot;Liberation Sans&quot;, sans-serif" font-weight="bold" stroke="#000" stroke-width="0.35" font-size="14.5" text-anchor="end">2.0</text>
<line x1="124.0" y1="1192.6" x2="124.0" y2="1227.3" stroke="#333" stroke-width="1.25"/>
<line x1="116.4" y1="1192.6" x2="131.6" y2="1192.6" stroke="#000" stroke-width="1.6"/>
<rect x="109.8" y="1228.1" width="28.4" height="47.9" fill="#000000" stroke="#000" stroke-width="1.6"/>
<line x1="169.9" y1="1193.7" x2="169.9" y2="1213.1" stroke="#333" stroke-width="1.25"/>
<line x1="162.3" y1="1193.7" x2="177.5" y2="1193.7" stroke="#000" stroke-width="1.6"/>
<rect x="155.7" y="1213.9" width="28.4" height="62.1" fill="#a2a1a7" stroke="#000" stroke-width="1.6"/>
<line x1="215.5" y1="1148.9" x2="215.5" y2="1164.5" stroke="#333" stroke-width="1.25"/>
<line x1="207.9" y1="1148.9" x2="223.1" y2="1148.9" stroke="#000" stroke-width="1.6"/>
<rect x="201.3" y="1165.3" width="28.4" height="110.7" fill="#818181" stroke="#000" stroke-width="1.6"/>
<text x="215.9" y="1145.0" font-family="&quot;Liberation Sans&quot;, sans-serif" font-weight="bold" font-size="13.5" letter-spacing="1.1" text-anchor="middle">*</text>
<line x1="261.7" y1="1132.5" x2="261.7" y2="1157.6" stroke="#333" stroke-width="1.25"/>
<line x1="254.1" y1="1132.5" x2="269.3" y2="1132.5" stroke="#000" stroke-width="1.6"/>
<rect x="247.5" y="1158.4" width="28.4" height="117.6" fill="#d5d5d5" stroke="#000" stroke-width="1.6"/>
<text x="262.1" y="1128.0" font-family="&quot;Liberation Sans&quot;, sans-serif" font-weight="bold" font-size="13.5" letter-spacing="1.1" text-anchor="middle">*</text>
<line x1="85.0" y1="1276.0" x2="293.5" y2="1276.0" stroke="#000" stroke-width="2"/>
<line x1="124.0" y1="1276.0" x2="124.0" y2="1283.8" stroke="#000" stroke-width="2"/>
<text x="124.0" y="1299.6" font-family="&quot;Liberation Sans&quot;, sans-serif" font-weight="bold" stroke="#000" stroke-width="0.35" font-size="14.5" text-anchor="middle">Control</text>
<line x1="169.9" y1="1276.0" x2="169.9" y2="1283.8" stroke="#000" stroke-width="2"/>
<text x="169.9" y="1299.6" font-family="&quot;Liberation Sans&quot;, sans-serif" font-weight="bold" stroke="#000" stroke-width="0.35" font-size="14.5" text-anchor="middle">1.5%</text>
<line x1="215.5" y1="1276.0" x2="215.5" y2="1283.8" stroke="#000" stroke-width="2"/>
<text x="215.5" y="1299.6" font-family="&quot;Liberation Sans&quot;, sans-serif" font-weight="bold" stroke="#000" stroke-width="0.35" font-size="14.5" text-anchor="middle">2.5%</text>
<line x1="261.7" y1="1276.0" x2="261.7" y2="1283.8" stroke="#000" stroke-width="2"/>
<text x="261.7" y="1299.6" font-family="&quot;Liberation Sans&quot;, sans-serif" font-weight="bold" stroke="#000" stroke-width="0.35" font-size="14.5" text-anchor="middle">4.25%</text>
<text transform="translate(28.9,1176.6) rotate(-90)" font-family="&quot;Liberation Sans&quot;, sans-serif" font-weight="bold" stroke="#000" stroke-width="0.35" font-size="16.2" text-anchor="middle">Relative protein levels of</text>
<text transform="translate(49.3,1176.6) rotate(-90)" font-family="&quot;Liberation Sans&quot;, sans-serif" font-weight="bold" stroke="#000" stroke-width="0.35" font-size="16.2" text-anchor="middle">Endoglin</text>
<line x1="458.4" y1="1074.9" x2="458.4" y2="1278.0" stroke="#000" stroke-width="2"/>
<line x1="450.9" y1="1277.0" x2="458.4" y2="1277.0" stroke="#000" stroke-width="2"/>
<text x="448.2" y="1282.3" font-family="&quot;Liberation Sans&quot;, sans-serif" font-weight="bold" stroke="#000" stroke-width="0.35" font-size="14.5" text-anchor="end">0.0</text>
<line x1="450.9" y1="1209.9" x2="458.4" y2="1209.9" stroke="#000" stroke-width="2"/>
<text x="448.2" y="1215.2" font-family="&quot;Liberation Sans&quot;, sans-serif" font-weight="bold" stroke="#000" stroke-width="0.35" font-size="14.5" text-anchor="end">0.5</text>
<line x1="450.9" y1="1142.9" x2="458.4" y2="1142.9" stroke="#000" stroke-width="2"/>
<text x="448.2" y="1148.2" font-family="&quot;Liberation Sans&quot;, sans-serif" font-weight="bold" stroke="#000" stroke-width="0.35" font-size="14.5" text-anchor="end">1.0</text>
<line x1="450.9" y1="1075.8" x2="458.4" y2="1075.8" stroke="#000" stroke-width="2"/>
<text x="448.2" y="1081.1" font-family="&quot;Liberation Sans&quot;, sans-serif" font-weight="bold" stroke="#000" stroke-width="0.35" font-size="14.5" text-anchor="end">1.5</text>
<line x1="490.0" y1="1210.6" x2="490.0" y2="1222.9" stroke="#333" stroke-width="1.25"/>
<line x1="482.4" y1="1210.6" x2="497.6" y2="1210.6" stroke="#000" stroke-width="1.6"/>
<rect x="475.8" y="1223.7" width="28.4" height="53.3" fill="#000000" stroke="#000" stroke-width="1.6"/>
<line x1="536.2" y1="1187.7" x2="536.2" y2="1199.6" stroke="#333" stroke-width="1.25"/>
<line x1="528.6" y1="1187.7" x2="543.8" y2="1187.7" stroke="#000" stroke-width="1.6"/>
<rect x="522.0" y="1200.4" width="28.4" height="76.6" fill="#a2a1a7" stroke="#000" stroke-width="1.6"/>
<line x1="582.6" y1="1155.5" x2="582.6" y2="1167.0" stroke="#333" stroke-width="1.25"/>
<line x1="575.0" y1="1155.5" x2="590.2" y2="1155.5" stroke="#000" stroke-width="1.6"/>
<rect x="568.4" y="1167.8" width="28.4" height="109.2" fill="#818181" stroke="#000" stroke-width="1.6"/>
<text x="583.0" y="1151.0" font-family="&quot;Liberation Sans&quot;, sans-serif" font-weight="bold" font-size="13.5" letter-spacing="1.1" text-anchor="middle">***</text>
<line x1="629.0" y1="1120.4" x2="629.0" y2="1126.5" stroke="#333" stroke-width="1.25"/>
<line x1="621.4" y1="1120.4" x2="636.6" y2="1120.4" stroke="#000" stroke-width="1.6"/>
<rect x="614.8" y="1127.3" width="28.4" height="149.7" fill="#d5d5d5" stroke="#000" stroke-width="1.6"/>
<text x="629.4" y="1115.5" font-family="&quot;Liberation Sans&quot;, sans-serif" font-weight="bold" font-size="13.5" letter-spacing="1.1" text-anchor="middle">****</text>
<line x1="450.9" y1="1277.0" x2="659.4" y2="1277.0" stroke="#000" stroke-width="2"/>
<line x1="490.0" y1="1277.0" x2="490.0" y2="1284.8" stroke="#000" stroke-width="2"/>
<text x="490.0" y="1300.6" font-family="&quot;Liberation Sans&quot;, sans-serif" font-weight="bold" stroke="#000" stroke-width="0.35" font-size="14.5" text-anchor="middle">Control</text>
<line x1="536.2" y1="1277.0" x2="536.2" y2="1284.8" stroke="#000" stroke-width="2"/>
<text x="536.2" y="1300.6" font-family="&quot;Liberation Sans&quot;, sans-serif" font-weight="bold" stroke="#000" stroke-width="0.35" font-size="14.5" text-anchor="middle">1.5%</text>
<line x1="582.6" y1="1277.0" x2="582.6" y2="1284.8" stroke="#000" stroke-width="2"/>
<text x="582.6" y="1300.6" font-family="&quot;Liberation Sans&quot;, sans-serif" font-weight="bold" stroke="#000" stroke-width="0.35" font-size="14.5" text-anchor="middle">2.5%</text>
<line x1="629.0" y1="1277.0" x2="629.0" y2="1284.8" stroke="#000" stroke-width="2"/>
<text x="629.0" y="1300.6" font-family="&quot;Liberation Sans&quot;, sans-serif" font-weight="bold" stroke="#000" stroke-width="0.35" font-size="14.5" text-anchor="middle">4.25%</text>
<text transform="translate(394.8,1176.4) rotate(-90)" font-family="&quot;Liberation Sans&quot;, sans-serif" font-weight="bold" stroke="#000" stroke-width="0.35" font-size="16.2" text-anchor="middle">Relative protein levels of</text>
<text transform="translate(415.2,1176.4) rotate(-90)" font-family="&quot;Liberation Sans&quot;, sans-serif" font-weight="bold" stroke="#000" stroke-width="0.35" font-size="16.2" text-anchor="middle">Fibronectin</text>
<line x1="828.0" y1="1075.4" x2="828.0" y2="1277.1" stroke="#000" stroke-width="2"/>
<line x1="820.5" y1="1276.1" x2="828.0" y2="1276.1" stroke="#000" stroke-width="2"/>
<text x="817.8" y="1281.4" font-family="&quot;Liberation Sans&quot;, sans-serif" font-weight="bold" stroke="#000" stroke-width="0.35" font-size="14.5" text-anchor="end">0.0</text>
<line x1="820.5" y1="1209.5" x2="828.0" y2="1209.5" stroke="#000" stroke-width="2"/>
<text x="817.8" y="1214.8" font-family="&quot;Liberation Sans&quot;, sans-serif" font-weight="bold" stroke="#000" stroke-width="0.35" font-size="14.5" text-anchor="end">0.5</text>
<line x1="820.5" y1="1142.9" x2="828.0" y2="1142.9" stroke="#000" stroke-width="2"/>
<text x="817.8" y="1148.2" font-family="&quot;Liberation Sans&quot;, sans-serif" font-weight="bold" stroke="#000" stroke-width="0.35" font-size="14.5" text-anchor="end">1.0</text>
<line x1="820.5" y1="1076.3" x2="828.0" y2="1076.3" stroke="#000" stroke-width="2"/>
<text x="817.8" y="1081.6" font-family="&quot;Liberation Sans&quot;, sans-serif" font-weight="bold" stroke="#000" stroke-width="0.35" font-size="14.5" text-anchor="end">1.5</text>
<line x1="859.6" y1="1234.3" x2="859.6" y2="1240.0" stroke="#333" stroke-width="1.25"/>
<line x1="852.0" y1="1234.3" x2="867.2" y2="1234.3" stroke="#000" stroke-width="1.6"/>
<rect x="845.4" y="1240.8" width="28.4" height="35.3" fill="#000000" stroke="#000" stroke-width="1.6"/>
<line x1="905.8" y1="1146.6" x2="905.8" y2="1174.5" stroke="#333" stroke-width="1.25"/>
<line x1="898.2" y1="1146.6" x2="913.4" y2="1146.6" stroke="#000" stroke-width="1.6"/>
<rect x="891.6" y="1175.3" width="28.4" height="100.8" fill="#a2a1a7" stroke="#000" stroke-width="1.6"/>
<text x="906.2" y="1143.8" font-family="&quot;Liberation Sans&quot;, sans-serif" font-weight="bold" font-size="13.5" letter-spacing="1.1" text-anchor="middle">*</text>
<line x1="951.4" y1="1114.6" x2="951.4" y2="1136.0" stroke="#333" stroke-width="1.25"/>
<line x1="943.8" y1="1114.6" x2="959.0" y2="1114.6" stroke="#000" stroke-width="1.6"/>
<rect x="937.2" y="1136.8" width="28.4" height="139.3" fill="#818181" stroke="#000" stroke-width="1.6"/>
<text x="951.8" y="1111.8" font-family="&quot;Liberation Sans&quot;, sans-serif" font-weight="bold" font-size="13.5" letter-spacing="1.1" text-anchor="middle">**</text>
<line x1="997.6" y1="1090.4" x2="997.6" y2="1129.5" stroke="#333" stroke-width="1.25"/>
<line x1="990.0" y1="1090.4" x2="1005.2" y2="1090.4" stroke="#000" stroke-width="1.6"/>
<rect x="983.4" y="1130.3" width="28.4" height="145.8" fill="#d5d5d5" stroke="#000" stroke-width="1.6"/>
<text x="998.0" y="1086.2" font-family="&quot;Liberation Sans&quot;, sans-serif" font-weight="bold" font-size="13.5" letter-spacing="1.1" text-anchor="middle">**</text>
<line x1="820.5" y1="1276.1" x2="1029.0" y2="1276.1" stroke="#000" stroke-width="2"/>
<line x1="859.6" y1="1276.1" x2="859.6" y2="1283.9" stroke="#000" stroke-width="2"/>
<text x="859.6" y="1299.7" font-family="&quot;Liberation Sans&quot;, sans-serif" font-weight="bold" stroke="#000" stroke-width="0.35" font-size="14.5" text-anchor="middle">Control</text>
<line x1="905.8" y1="1276.1" x2="905.8" y2="1283.9" stroke="#000" stroke-width="2"/>
<text x="905.8" y="1299.7" font-family="&quot;Liberation Sans&quot;, sans-serif" font-weight="bold" stroke="#000" stroke-width="0.35" font-size="14.5" text-anchor="middle">1.5%</text>
<line x1="951.4" y1="1276.1" x2="951.4" y2="1283.9" stroke="#000" stroke-width="2"/>
<text x="951.4" y="1299.7" font-family="&quot;Liberation Sans&quot;, sans-serif" font-weight="bold" stroke="#000" stroke-width="0.35" font-size="14.5" text-anchor="middle">2.5%</text>
<line x1="997.6" y1="1276.1" x2="997.6" y2="1283.9" stroke="#000" stroke-width="2"/>
<text x="997.6" y="1299.7" font-family="&quot;Liberation Sans&quot;, sans-serif" font-weight="bold" stroke="#000" stroke-width="0.35" font-size="14.5" text-anchor="middle">4.25%</text>
<text transform="translate(764.4,1176.2) rotate(-90)" font-family="&quot;Liberation Sans&quot;, sans-serif" font-weight="bold" stroke="#000" stroke-width="0.35" font-size="16.2" text-anchor="middle">Relative protein levels of</text>
<text transform="translate(784.8,1176.2) rotate(-90)" font-family="&quot;Liberation Sans&quot;, sans-serif" font-weight="bold" stroke="#000" stroke-width="0.35" font-size="16.2" text-anchor="middle">Collagen Type I</text>
<line x1="1197.0" y1="1075.8" x2="1197.0" y2="1277.6" stroke="#000" stroke-width="2"/>
<line x1="1189.5" y1="1276.6" x2="1197.0" y2="1276.6" stroke="#000" stroke-width="2"/>
<text x="1186.8" y="1281.9" font-family="&quot;Liberation Sans&quot;, sans-serif" font-weight="bold" stroke="#000" stroke-width="0.35" font-size="14.5" text-anchor="end">0.0</text>
<line x1="1189.5" y1="1210.0" x2="1197.0" y2="1210.0" stroke="#000" stroke-width="2"/>
<text x="1186.8" y="1215.3" font-family="&quot;Liberation Sans&quot;, sans-serif" font-weight="bold" stroke="#000" stroke-width="0.35" font-size="14.5" text-anchor="end">0.5</text>
<line x1="1189.5" y1="1143.3" x2="1197.0" y2="1143.3" stroke="#000" stroke-width="2"/>
<text x="1186.8" y="1148.6" font-family="&quot;Liberation Sans&quot;, sans-serif" font-weight="bold" stroke="#000" stroke-width="0.35" font-size="14.5" text-anchor="end">1.0</text>
<line x1="1189.5" y1="1076.7" x2="1197.0" y2="1076.7" stroke="#000" stroke-width="2"/>
<text x="1186.8" y="1082.0" font-family="&quot;Liberation Sans&quot;, sans-serif" font-weight="bold" stroke="#000" stroke-width="0.35" font-size="14.5" text-anchor="end">1.5</text>
<line x1="1228.0" y1="1132.7" x2="1228.0" y2="1142.5" stroke="#333" stroke-width="1.25"/>
<line x1="1220.4" y1="1132.7" x2="1235.6" y2="1132.7" stroke="#000" stroke-width="1.6"/>
<rect x="1213.8" y="1143.3" width="28.4" height="133.3" fill="#000000" stroke="#000" stroke-width="1.6"/>
<line x1="1274.6" y1="1152.0" x2="1274.6" y2="1164.2" stroke="#333" stroke-width="1.25"/>
<line x1="1267.0" y1="1152.0" x2="1282.2" y2="1152.0" stroke="#000" stroke-width="1.6"/>
<rect x="1260.4" y="1165.0" width="28.4" height="111.6" fill="#a2a1a7" stroke="#000" stroke-width="1.6"/>
<line x1="1319.8" y1="1186.6" x2="1319.8" y2="1203.0" stroke="#333" stroke-width="1.25"/>
<line x1="1312.2" y1="1186.6" x2="1327.4" y2="1186.6" stroke="#000" stroke-width="1.6"/>
<rect x="1305.6" y="1203.8" width="28.4" height="72.8" fill="#818181" stroke="#000" stroke-width="1.6"/>
<text x="1320.2" y="1182.6" font-family="&quot;Liberation Sans&quot;, sans-serif" font-weight="bold" font-size="13.5" letter-spacing="1.1" text-anchor="middle">***</text>
<line x1="1366.2" y1="1221.3" x2="1366.2" y2="1231.6" stroke="#333" stroke-width="1.25"/>
<line x1="1358.6" y1="1221.3" x2="1373.8" y2="1221.3" stroke="#000" stroke-width="1.6"/>
<rect x="1352.0" y="1232.4" width="28.4" height="44.2" fill="#d5d5d5" stroke="#000" stroke-width="1.6"/>
<text x="1366.6" y="1218.0" font-family="&quot;Liberation Sans&quot;, sans-serif" font-weight="bold" font-size="13.5" letter-spacing="1.1" text-anchor="middle">****</text>
<line x1="1189.5" y1="1276.6" x2="1398.0" y2="1276.6" stroke="#000" stroke-width="2"/>
<line x1="1228.0" y1="1276.6" x2="1228.0" y2="1284.4" stroke="#000" stroke-width="2"/>
<text x="1228.0" y="1300.2" font-family="&quot;Liberation Sans&quot;, sans-serif" font-weight="bold" stroke="#000" stroke-width="0.35" font-size="14.5" text-anchor="middle">Control</text>
<line x1="1274.6" y1="1276.6" x2="1274.6" y2="1284.4" stroke="#000" stroke-width="2"/>
<text x="1274.6" y="1300.2" font-family="&quot;Liberation Sans&quot;, sans-serif" font-weight="bold" stroke="#000" stroke-width="0.35" font-size="14.5" text-anchor="middle">1.5%</text>
<line x1="1319.8" y1="1276.6" x2="1319.8" y2="1284.4" stroke="#000" stroke-width="2"/>
<text x="1319.8" y="1300.2" font-family="&quot;Liberation Sans&quot;, sans-serif" font-weight="bold" stroke="#000" stroke-width="0.35" font-size="14.5" text-anchor="middle">2.5%</text>
<line x1="1366.2" y1="1276.6" x2="1366.2" y2="1284.4" stroke="#000" stroke-width="2"/>
<text x="1366.2" y="1300.2" font-family="&quot;Liberation Sans&quot;, sans-serif" font-weight="bold" stroke="#000" stroke-width="0.35" font-size="14.5" text-anchor="middle">4.25%</text>
<text transform="translate(1133.4,1176.7) rotate(-90)" font-family="&quot;Liberation Sans&quot;, sans-serif" font-weight="bold" stroke="#000" stroke-width="0.35" font-size="16.2" text-anchor="middle">Relative protein levels of</text>
<text transform="translate(1153.8,1176.7) rotate(-90)" font-family="&quot;Liberation Sans&quot;, sans-serif" font-weight="bold" stroke="#000" stroke-width="0.35" font-size="16.2" text-anchor="middle">E-cadherin</text>
<line x1="92.0" y1="1394.9" x2="92.0" y2="1598.3" stroke="#000" stroke-width="2"/>
<line x1="84.5" y1="1597.3" x2="92.0" y2="1597.3" stroke="#000" stroke-width="2"/>
<text x="81.8" y="1602.6" font-family="&quot;Liberation Sans&quot;, sans-serif" font-weight="bold" stroke="#000" stroke-width="0.35" font-size="14.5" text-anchor="end">0.0</text>
<line x1="84.5" y1="1530.1" x2="92.0" y2="1530.1" stroke="#000" stroke-width="2"/>
<text x="81.8" y="1535.4" font-family="&quot;Liberation Sans&quot;, sans-serif" font-weight="bold" stroke="#000" stroke-width="0.35" font-size="14.5" text-anchor="end">0.5</text>
<line x1="84.5" y1="1463.0" x2="92.0" y2="1463.0" stroke="#000" stroke-width="2"/>
<text x="81.8" y="1468.3" font-family="&quot;Liberation Sans&quot;, sans-serif" font-weight="bold" stroke="#000" stroke-width="0.35" font-size="14.5" text-anchor="end">1.0</text>
<line x1="84.5" y1="1395.8" x2="92.0" y2="1395.8" stroke="#000" stroke-width="2"/>
<text x="81.8" y="1401.1" font-family="&quot;Liberation Sans&quot;, sans-serif" font-weight="bold" stroke="#000" stroke-width="0.35" font-size="14.5" text-anchor="end">1.5</text>
<line x1="122.8" y1="1530.3" x2="122.8" y2="1540.2" stroke="#333" stroke-width="1.25"/>
<line x1="115.2" y1="1530.3" x2="130.4" y2="1530.3" stroke="#000" stroke-width="1.6"/>
<rect x="108.6" y="1541.0" width="28.4" height="56.3" fill="#000000" stroke="#000" stroke-width="1.6"/>
<line x1="169.2" y1="1462.5" x2="169.2" y2="1502.9" stroke="#333" stroke-width="1.25"/>
<line x1="161.6" y1="1462.5" x2="176.8" y2="1462.5" stroke="#000" stroke-width="1.6"/>
<rect x="155.0" y="1503.7" width="28.4" height="93.6" fill="#a2a1a7" stroke="#000" stroke-width="1.6"/>
<line x1="214.9" y1="1450.4" x2="214.9" y2="1483.0" stroke="#333" stroke-width="1.25"/>
<line x1="207.3" y1="1450.4" x2="222.5" y2="1450.4" stroke="#000" stroke-width="1.6"/>
<rect x="200.7" y="1483.8" width="28.4" height="113.5" fill="#818181" stroke="#000" stroke-width="1.6"/>
<line x1="260.5" y1="1445.8" x2="260.5" y2="1459.5" stroke="#333" stroke-width="1.25"/>
<line x1="252.9" y1="1445.8" x2="268.1" y2="1445.8" stroke="#000" stroke-width="1.6"/>
<rect x="246.3" y="1460.3" width="28.4" height="137.0" fill="#d5d5d5" stroke="#000" stroke-width="1.6"/>
<text x="260.9" y="1439.8" font-family="&quot;Liberation Sans&quot;, sans-serif" font-weight="bold" font-size="13.5" letter-spacing="1.1" text-anchor="middle">*</text>
<line x1="84.5" y1="1597.3" x2="293.0" y2="1597.3" stroke="#000" stroke-width="2"/>
<line x1="122.8" y1="1597.3" x2="122.8" y2="1605.1" stroke="#000" stroke-width="2"/>
<text x="122.8" y="1620.9" font-family="&quot;Liberation Sans&quot;, sans-serif" font-weight="bold" stroke="#000" stroke-width="0.35" font-size="14.5" text-anchor="middle">Control</text>
<line x1="169.2" y1="1597.3" x2="169.2" y2="1605.1" stroke="#000" stroke-width="2"/>
<text x="169.2" y="1620.9" font-family="&quot;Liberation Sans&quot;, sans-serif" font-weight="bold" stroke="#000" stroke-width="0.35" font-size="14.5" text-anchor="middle">1.5%</text>
<line x1="214.9" y1="1597.3" x2="214.9" y2="1605.1" stroke="#000" stroke-width="2"/>
<text x="214.9" y="1620.9" font-family="&quot;Liberation Sans&quot;, sans-serif" font-weight="bold" stroke="#000" stroke-width="0.35" font-size="14.5" text-anchor="middle">2.5%</text>
<line x1="260.5" y1="1597.3" x2="260.5" y2="1605.1" stroke="#000" stroke-width="2"/>
<text x="260.5" y="1620.9" font-family="&quot;Liberation Sans&quot;, sans-serif" font-weight="bold" stroke="#000" stroke-width="0.35" font-size="14.5" text-anchor="middle">4.25%</text>
<text transform="translate(28.4,1496.5) rotate(-90)" font-family="&quot;Liberation Sans&quot;, sans-serif" font-weight="bold" stroke="#000" stroke-width="0.35" font-size="16.2" text-anchor="middle">Relative protein levels of</text>
<text transform="translate(48.8,1496.5) rotate(-90)" font-family="&quot;Liberation Sans&quot;, sans-serif" font-weight="bold" stroke="#000" stroke-width="0.35" font-size="16.2" text-anchor="middle">N-cadherin</text>
<line x1="459.0" y1="1394.9" x2="459.0" y2="1597.3" stroke="#000" stroke-width="2"/>
<line x1="451.5" y1="1596.3" x2="459.0" y2="1596.3" stroke="#000" stroke-width="2"/>
<text x="448.8" y="1601.6" font-family="&quot;Liberation Sans&quot;, sans-serif" font-weight="bold" stroke="#000" stroke-width="0.35" font-size="14.5" text-anchor="end">0.0</text>
<line x1="451.5" y1="1529.5" x2="459.0" y2="1529.5" stroke="#000" stroke-width="2"/>
<text x="448.8" y="1534.8" font-family="&quot;Liberation Sans&quot;, sans-serif" font-weight="bold" stroke="#000" stroke-width="0.35" font-size="14.5" text-anchor="end">0.5</text>
<line x1="451.5" y1="1462.6" x2="459.0" y2="1462.6" stroke="#000" stroke-width="2"/>
<text x="448.8" y="1467.9" font-family="&quot;Liberation Sans&quot;, sans-serif" font-weight="bold" stroke="#000" stroke-width="0.35" font-size="14.5" text-anchor="end">1.0</text>
<line x1="451.5" y1="1395.8" x2="459.0" y2="1395.8" stroke="#000" stroke-width="2"/>
<text x="448.8" y="1401.1" font-family="&quot;Liberation Sans&quot;, sans-serif" font-weight="bold" stroke="#000" stroke-width="0.35" font-size="14.5" text-anchor="end">1.5</text>
<line x1="491.2" y1="1493.8" x2="491.2" y2="1511.6" stroke="#333" stroke-width="1.25"/>
<line x1="483.6" y1="1493.8" x2="498.8" y2="1493.8" stroke="#000" stroke-width="1.6"/>
<rect x="477.0" y="1512.4" width="28.4" height="83.9" fill="#000000" stroke="#000" stroke-width="1.6"/>
<line x1="536.9" y1="1478.5" x2="536.9" y2="1493.8" stroke="#333" stroke-width="1.25"/>
<line x1="529.3" y1="1478.5" x2="544.5" y2="1478.5" stroke="#000" stroke-width="1.6"/>
<rect x="522.7" y="1494.6" width="28.4" height="101.7" fill="#a2a1a7" stroke="#000" stroke-width="1.6"/>
<line x1="582.6" y1="1459.0" x2="582.6" y2="1466.6" stroke="#333" stroke-width="1.25"/>
<line x1="575.0" y1="1459.0" x2="590.2" y2="1459.0" stroke="#000" stroke-width="1.6"/>
<rect x="568.4" y="1467.4" width="28.4" height="128.9" fill="#818181" stroke="#000" stroke-width="1.6"/>
<text x="583.0" y="1455.3" font-family="&quot;Liberation Sans&quot;, sans-serif" font-weight="bold" font-size="13.5" letter-spacing="1.1" text-anchor="middle">*</text>
<line x1="629.0" y1="1414.5" x2="629.0" y2="1442.4" stroke="#333" stroke-width="1.25"/>
<line x1="621.4" y1="1414.5" x2="636.6" y2="1414.5" stroke="#000" stroke-width="1.6"/>
<rect x="614.8" y="1443.2" width="28.4" height="153.1" fill="#d5d5d5" stroke="#000" stroke-width="1.6"/>
<text x="629.4" y="1410.8" font-family="&quot;Liberation Sans&quot;, sans-serif" font-weight="bold" font-size="13.5" letter-spacing="1.1" text-anchor="middle">**</text>
<line x1="451.5" y1="1596.3" x2="660.0" y2="1596.3" stroke="#000" stroke-width="2"/>
<line x1="491.2" y1="1596.3" x2="491.2" y2="1604.1" stroke="#000" stroke-width="2"/>
<text x="491.2" y="1619.9" font-family="&quot;Liberation Sans&quot;, sans-serif" font-weight="bold" stroke="#000" stroke-width="0.35" font-size="14.5" text-anchor="middle">Control</text>
<line x1="536.9" y1="1596.3" x2="536.9" y2="1604.1" stroke="#000" stroke-width="2"/>
<text x="536.9" y="1619.9" font-family="&quot;Liberation Sans&quot;, sans-serif" font-weight="bold" stroke="#000" stroke-width="0.35" font-size="14.5" text-anchor="middle">1.5%</text>
<line x1="582.6" y1="1596.3" x2="582.6" y2="1604.1" stroke="#000" stroke-width="2"/>
<text x="582.6" y="1619.9" font-family="&quot;Liberation Sans&quot;, sans-serif" font-weight="bold" stroke="#000" stroke-width="0.35" font-size="14.5" text-anchor="middle">2.5%</text>
<line x1="629.0" y1="1596.3" x2="629.0" y2="1604.1" stroke="#000" stroke-width="2"/>
<text x="629.0" y="1619.9" font-family="&quot;Liberation Sans&quot;, sans-serif" font-weight="bold" stroke="#000" stroke-width="0.35" font-size="14.5" text-anchor="middle">4.25%</text>
<text transform="translate(395.4,1496.0) rotate(-90)" font-family="&quot;Liberation Sans&quot;, sans-serif" font-weight="bold" stroke="#000" stroke-width="0.35" font-size="16.2" text-anchor="middle">Relative protein levels of</text>
<text transform="translate(415.8,1496.0) rotate(-90)" font-family="&quot;Liberation Sans&quot;, sans-serif" font-weight="bold" stroke="#000" stroke-width="0.35" font-size="16.2" text-anchor="middle">Vimentin</text>
<line x1="828.0" y1="1396.1" x2="828.0" y2="1598.3" stroke="#000" stroke-width="2"/>
<line x1="820.5" y1="1597.3" x2="828.0" y2="1597.3" stroke="#000" stroke-width="2"/>
<text x="817.8" y="1602.6" font-family="&quot;Liberation Sans&quot;, sans-serif" font-weight="bold" stroke="#000" stroke-width="0.35" font-size="14.5" text-anchor="end">0.0</text>
<line x1="820.5" y1="1530.5" x2="828.0" y2="1530.5" stroke="#000" stroke-width="2"/>
<text x="817.8" y="1535.8" font-family="&quot;Liberation Sans&quot;, sans-serif" font-weight="bold" stroke="#000" stroke-width="0.35" font-size="14.5" text-anchor="end">0.5</text>
<line x1="820.5" y1="1463.8" x2="828.0" y2="1463.8" stroke="#000" stroke-width="2"/>
<text x="817.8" y="1469.1" font-family="&quot;Liberation Sans&quot;, sans-serif" font-weight="bold" stroke="#000" stroke-width="0.35" font-size="14.5" text-anchor="end">1.0</text>
<line x1="820.5" y1="1397.0" x2="828.0" y2="1397.0" stroke="#000" stroke-width="2"/>
<text x="817.8" y="1402.3" font-family="&quot;Liberation Sans&quot;, sans-serif" font-weight="bold" stroke="#000" stroke-width="0.35" font-size="14.5" text-anchor="end">1.5</text>
<line x1="859.6" y1="1510.5" x2="859.6" y2="1533.8" stroke="#333" stroke-width="1.25"/>
<line x1="852.0" y1="1510.5" x2="867.2" y2="1510.5" stroke="#000" stroke-width="1.6"/>
<rect x="845.4" y="1534.6" width="28.4" height="62.7" fill="#000000" stroke="#000" stroke-width="1.6"/>
<line x1="905.8" y1="1455.0" x2="905.8" y2="1489.2" stroke="#333" stroke-width="1.25"/>
<line x1="898.2" y1="1455.0" x2="913.4" y2="1455.0" stroke="#000" stroke-width="1.6"/>
<rect x="891.6" y="1490.0" width="28.4" height="107.3" fill="#a2a1a7" stroke="#000" stroke-width="1.6"/>
<line x1="951.4" y1="1461.0" x2="951.4" y2="1462.5" stroke="#333" stroke-width="1.25"/>
<line x1="943.8" y1="1461.0" x2="959.0" y2="1461.0" stroke="#000" stroke-width="1.6"/>
<rect x="937.2" y="1463.3" width="28.4" height="134.0" fill="#818181" stroke="#000" stroke-width="1.6"/>
<text x="951.8" y="1456.5" font-family="&quot;Liberation Sans&quot;, sans-serif" font-weight="bold" font-size="13.5" letter-spacing="1.1" text-anchor="middle">*</text>
<line x1="997.6" y1="1410.0" x2="997.6" y2="1440.0" stroke="#333" stroke-width="1.25"/>
<line x1="990.0" y1="1410.0" x2="1005.2" y2="1410.0" stroke="#000" stroke-width="1.6"/>
<rect x="983.4" y="1440.8" width="28.4" height="156.5" fill="#d5d5d5" stroke="#000" stroke-width="1.6"/>
<text x="998.0" y="1406.2" font-family="&quot;Liberation Sans&quot;, sans-serif" font-weight="bold" font-size="13.5" letter-spacing="1.1" text-anchor="middle">**</text>
<line x1="820.5" y1="1597.3" x2="1029.0" y2="1597.3" stroke="#000" stroke-width="2"/>
<line x1="859.6" y1="1597.3" x2="859.6" y2="1605.1" stroke="#000" stroke-width="2"/>
<text x="859.6" y="1620.9" font-family="&quot;Liberation Sans&quot;, sans-serif" font-weight="bold" stroke="#000" stroke-width="0.35" font-size="14.5" text-anchor="middle">Control</text>
<line x1="905.8" y1="1597.3" x2="905.8" y2="1605.1" stroke="#000" stroke-width="2"/>
<text x="905.8" y="1620.9" font-family="&quot;Liberation Sans&quot;, sans-serif" font-weight="bold" stroke="#000" stroke-width="0.35" font-size="14.5" text-anchor="middle">1.5%</text>
<line x1="951.4" y1="1597.3" x2="951.4" y2="1605.1" stroke="#000" stroke-width="2"/>
<text x="951.4" y="1620.9" font-family="&quot;Liberation Sans&quot;, sans-serif" font-weight="bold" stroke="#000" stroke-width="0.35" font-size="14.5" text-anchor="middle">2.5%</text>
<line x1="997.6" y1="1597.3" x2="997.6" y2="1605.1" stroke="#000" stroke-width="2"/>
<text x="997.6" y="1620.9" font-family="&quot;Liberation Sans&quot;, sans-serif" font-weight="bold" stroke="#000" stroke-width="0.35" font-size="14.5" text-anchor="middle">4.25%</text>
<text transform="translate(764.4,1497.2) rotate(-90)" font-family="&quot;Liberation Sans&quot;, sans-serif" font-weight="bold" stroke="#000" stroke-width="0.35" font-size="16.2" text-anchor="middle">Relative protein levels of</text>
<text transform="translate(784.8,1497.2) rotate(-90)" font-family="&quot;Liberation Sans&quot;, sans-serif" font-weight="bold" stroke="#000" stroke-width="0.35" font-size="16.2" text-anchor="middle">&#945;-SMA</text>
<line x1="1198.0" y1="1397.0" x2="1198.0" y2="1598.3" stroke="#000" stroke-width="2"/>
<line x1="1190.5" y1="1597.3" x2="1198.0" y2="1597.3" stroke="#000" stroke-width="2"/>
<text x="1187.8" y="1602.6" font-family="&quot;Liberation Sans&quot;, sans-serif" font-weight="bold" stroke="#000" stroke-width="0.35" font-size="14.5" text-anchor="end">0.0</text>
<line x1="1190.5" y1="1547.5" x2="1198.0" y2="1547.5" stroke="#000" stroke-width="2"/>
<text x="1187.8" y="1552.8" font-family="&quot;Liberation Sans&quot;, sans-serif" font-weight="bold" stroke="#000" stroke-width="0.35" font-size="14.5" text-anchor="end">0.5</text>
<line x1="1190.5" y1="1497.6" x2="1198.0" y2="1497.6" stroke="#000" stroke-width="2"/>
<text x="1187.8" y="1502.9" font-family="&quot;Liberation Sans&quot;, sans-serif" font-weight="bold" stroke="#000" stroke-width="0.35" font-size="14.5" text-anchor="end">1.0</text>
<line x1="1190.5" y1="1447.8" x2="1198.0" y2="1447.8" stroke="#000" stroke-width="2"/>
<text x="1187.8" y="1453.0" font-family="&quot;Liberation Sans&quot;, sans-serif" font-weight="bold" stroke="#000" stroke-width="0.35" font-size="14.5" text-anchor="end">1.5</text>
<line x1="1190.5" y1="1397.9" x2="1198.0" y2="1397.9" stroke="#000" stroke-width="2"/>
<text x="1187.8" y="1403.2" font-family="&quot;Liberation Sans&quot;, sans-serif" font-weight="bold" stroke="#000" stroke-width="0.35" font-size="14.5" text-anchor="end">2.0</text>
<line x1="1228.5" y1="1505.9" x2="1228.5" y2="1528.0" stroke="#333" stroke-width="1.25"/>
<line x1="1220.9" y1="1505.9" x2="1236.1" y2="1505.9" stroke="#000" stroke-width="1.6"/>
<rect x="1214.3" y="1528.8" width="28.4" height="68.5" fill="#000000" stroke="#000" stroke-width="1.6"/>
<line x1="1274.6" y1="1483.3" x2="1274.6" y2="1507.5" stroke="#333" stroke-width="1.25"/>
<line x1="1267.0" y1="1483.3" x2="1282.2" y2="1483.3" stroke="#000" stroke-width="1.6"/>
<rect x="1260.4" y="1508.3" width="28.4" height="89.0" fill="#a2a1a7" stroke="#000" stroke-width="1.6"/>
<line x1="1321.0" y1="1463.7" x2="1321.0" y2="1479.0" stroke="#333" stroke-width="1.25"/>
<line x1="1313.4" y1="1463.7" x2="1328.6" y2="1463.7" stroke="#000" stroke-width="1.6"/>
<rect x="1306.8" y="1479.8" width="28.4" height="117.5" fill="#818181" stroke="#000" stroke-width="1.6"/>
<text x="1321.4" y="1461.0" font-family="&quot;Liberation Sans&quot;, sans-serif" font-weight="bold" font-size="13.5" letter-spacing="1.1" text-anchor="middle">**</text>
<line x1="1366.7" y1="1428.2" x2="1366.7" y2="1453.4" stroke="#333" stroke-width="1.25"/>
<line x1="1359.1" y1="1428.2" x2="1374.3" y2="1428.2" stroke="#000" stroke-width="1.6"/>
<rect x="1352.5" y="1454.2" width="28.4" height="143.1" fill="#d5d5d5" stroke="#000" stroke-width="1.6"/>
<text x="1367.1" y="1425.4" font-family="&quot;Liberation Sans&quot;, sans-serif" font-weight="bold" font-size="13.5" letter-spacing="1.1" text-anchor="middle">****</text>
<line x1="1190.5" y1="1597.3" x2="1399.0" y2="1597.3" stroke="#000" stroke-width="2"/>
<line x1="1228.5" y1="1597.3" x2="1228.5" y2="1605.1" stroke="#000" stroke-width="2"/>
<text x="1228.5" y="1620.9" font-family="&quot;Liberation Sans&quot;, sans-serif" font-weight="bold" stroke="#000" stroke-width="0.35" font-size="14.5" text-anchor="middle">Control</text>
<line x1="1274.6" y1="1597.3" x2="1274.6" y2="1605.1" stroke="#000" stroke-width="2"/>
<text x="1274.6" y="1620.9" font-family="&quot;Liberation Sans&quot;, sans-serif" font-weight="bold" stroke="#000" stroke-width="0.35" font-size="14.5" text-anchor="middle">1.5%</text>
<line x1="1321.0" y1="1597.3" x2="1321.0" y2="1605.1" stroke="#000" stroke-width="2"/>
<text x="1321.0" y="1620.9" font-family="&quot;Liberation Sans&quot;, sans-serif" font-weight="bold" stroke="#000" stroke-width="0.35" font-size="14.5" text-anchor="middle">2.5%</text>
<line x1="1366.7" y1="1597.3" x2="1366.7" y2="1605.1" stroke="#000" stroke-width="2"/>
<text x="1366.7" y="1620.9" font-family="&quot;Liberation Sans&quot;, sans-serif" font-weight="bold" stroke="#000" stroke-width="0.35" font-size="14.5" text-anchor="middle">4.25%</text>
<text transform="translate(1134.4,1497.6) rotate(-90)" font-family="&quot;Liberation Sans&quot;, sans-serif" font-weight="bold" stroke="#000" stroke-width="0.35" font-size="16.2" text-anchor="middle">Relative protein levels of</text>
<text transform="translate(1154.8,1497.6) rotate(-90)" font-family="&quot;Liberation Sans&quot;, sans-serif" font-weight="bold" stroke="#000" stroke-width="0.35" font-size="16.2" text-anchor="middle">VEGFA</text>
</svg></body></html>
